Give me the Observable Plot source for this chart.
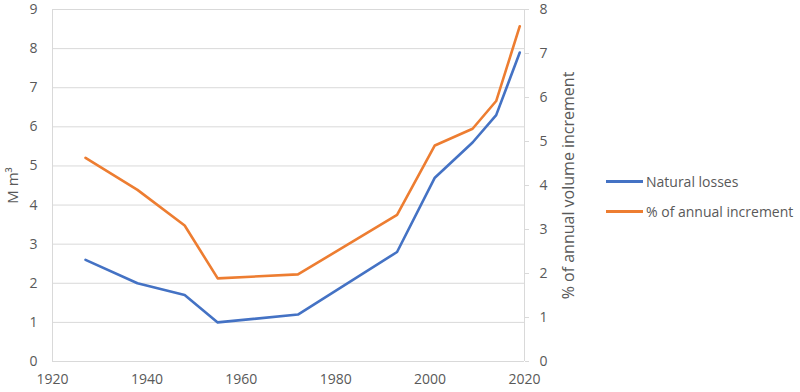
<!DOCTYPE html>
<html>
<head>
<meta charset="utf-8">
<script src="https://cdn.jsdelivr.net/npm/d3@7"></script>
<script src="https://cdn.jsdelivr.net/npm/@observablehq/plot@0.6"></script>
<style>
  body { margin: 0; background: #fff; }
  #wrap { position: relative; width: 800px; height: 392px; font-family: "Open Sans", sans-serif; }
  #legend { position: absolute; left: 606px; top: 171px; font-size: 14px; color: #595959; }
  .row { display: flex; align-items: center; height: 20px; margin-bottom: 10px; }
  .sw { width: 37px; height: 3px; margin-right: 3px; }
</style>
</head>
<body>
<div id="wrap"><div id="legend"></div></div>
<script>
const years = [1927, 1938, 1948, 1955, 1972, 1993, 2001, 2009, 2014, 2019];
const naturalLosses = [2.6, 2.0, 1.7, 1.0, 1.2, 2.8, 4.7, 5.6, 6.3, 7.9];
const pctIncrement = [4.63, 3.90, 3.09, 1.89, 1.98, 3.33, 4.91, 5.29, 5.92, 7.62];
const leftTicks = [0, 1, 2, 3, 4, 5, 6, 7, 8, 9];
const rightTicks = [0, 1, 2, 3, 4, 5, 6, 7, 8];
const xTicks = [1920, 1940, 1960, 1980, 2000, 2020];
const seriesNames = ["Natural losses", "% of annual increment"];
const leftTitle = "M m³";
const rightTitle = "% of annual volume increment";
const colors = ["#4472C4", "#ED7D31"];

const leftMax = 9, rightMax = 8;
const toLeft = v => v * leftMax / rightMax;

const lossData = years.map((y, i) => ({year: y, v: naturalLosses[i]}));
const pctData = years.map((y, i) => ({year: y, v: toLeft(pctIncrement[i])}));

const chart = Plot.plot({
  width: 800,
  height: 392,
  marginLeft: 52,
  marginRight: 276,
  marginTop: 9,
  marginBottom: 31,
  style: {fontFamily: "'Open Sans', sans-serif", fontSize: "14px", color: "#595959", background: "transparent"},
  x: {domain: [1920, 2020]},
  y: {domain: [0, leftMax]},
  marks: [
    Plot.gridY(leftTicks.slice(1), {stroke: "#d9d9d9", strokeOpacity: 1, strokeWidth: 1}),
    Plot.ruleX([1920], {stroke: "#d9d9d9", strokeWidth: 1}),
    Plot.ruleX([2020], {stroke: "#d9d9d9", strokeWidth: 1}),
    Plot.ruleY([0], {stroke: "#d9d9d9", strokeWidth: 1}),
    Plot.axisY(leftTicks, {anchor: "left", tickSize: 0, tickPadding: 15, label: null, fill: "#595959"}),
    Plot.axisY(rightTicks.map(toLeft), {anchor: "right", tickSize: 4, tickPadding: 11, stroke: "#d9d9d9", tickFormat: d => String(Math.round(d * rightMax / leftMax)), label: null, fill: "#595959"}),
    Plot.axisX(xTicks, {tickSize: 0, tickPadding: 13, tickFormat: d => String(d), label: null, fill: "#595959"}),
    Plot.text([leftTitle], {frameAnchor: "left", textAnchor: "middle", dx: -39, rotate: -90, fontSize: 15, fill: "#595959"}),
    Plot.text([rightTitle], {frameAnchor: "right", textAnchor: "middle", dx: 44, rotate: -90, fontSize: 16, fill: "#595959"}),
    Plot.line(lossData, {x: "year", y: "v", stroke: colors[0], strokeWidth: 2.6}),
    Plot.line(pctData, {x: "year", y: "v", stroke: colors[1], strokeWidth: 2.6})
  ]
});
const wrap = document.getElementById("wrap");
wrap.insertBefore(chart, wrap.firstChild);

const legend = document.getElementById("legend");
seriesNames.forEach((n, i) => {
  const row = document.createElement("div");
  row.className = "row";
  const sw = document.createElement("div");
  sw.className = "sw";
  sw.style.background = colors[i];
  const t = document.createElement("span");
  t.textContent = n;
  row.appendChild(sw);
  row.appendChild(t);
  legend.appendChild(row);
});
</script>
</body>
</html>
